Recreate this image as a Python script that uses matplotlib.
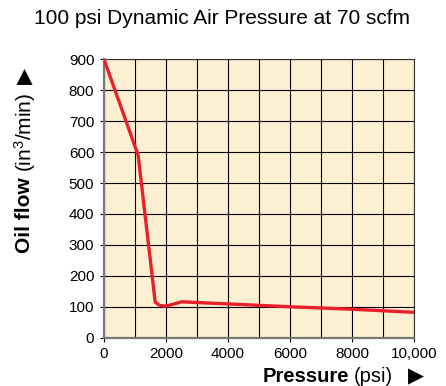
import matplotlib
matplotlib.use("Agg")
import matplotlib.pyplot as plt
from matplotlib.ticker import MultipleLocator, FuncFormatter

plt.rcParams['font.family'] = ['Liberation Sans', 'DejaVu Sans']
plt.rcParams['mathtext.fontset'] = 'custom'
plt.rcParams['mathtext.rm'] = 'Liberation Sans'
plt.rcParams['mathtext.default'] = 'regular'

pressure = [0, 1100, 1650, 1800, 2000, 2500, 6000, 8000, 10000]
oil_flow = [900, 590, 115, 104, 102, 116, 100, 92, 82]

title = "100 psi Dynamic Air Pressure at 70 scfm"

W, H = 446, 386
fig = plt.figure(figsize=(W / 100, H / 100), dpi=100)
ax = fig.add_axes([104 / W, 1 - 337.7 / H, (414.3 - 104) / W, (337.7 - 59.3) / H])
ax.set_facecolor('#FDEFD2')

ax.set_xlim(0, 10000)
ax.set_ylim(0, 900)
ax.xaxis.set_major_locator(MultipleLocator(2000))
ax.xaxis.set_minor_locator(MultipleLocator(1000))
ax.yaxis.set_major_locator(MultipleLocator(100))
ax.xaxis.set_major_formatter(FuncFormatter(lambda v, p: f"{int(v):,}" if v >= 10000 else f"{int(v)}"))

ax.grid(True, which='both', color='black', linewidth=0.8)
ax.set_axisbelow(True)

ax.plot(pressure, oil_flow, color='#E8202A', linewidth=2.4, solid_joinstyle='round', zorder=3)

for s in ['left', 'bottom']:
    ax.spines[s].set_color('#777777')
    ax.spines[s].set_linewidth(1.6)
for s in ['top', 'right']:
    ax.spines[s].set_color('#333333')
    ax.spines[s].set_linewidth(0.8)

ax.tick_params(axis='both', which='major', length=3, width=0.8, color='black', labelsize=11)
ax.tick_params(axis='x', which='major', pad=4)
ax.tick_params(axis='y', which='major', pad=4)
ax.tick_params(axis='x', which='minor', length=0)

fig.text(222 / W, 1 - 18 / H, title, ha='center', va='center', fontsize=15)

renderer = fig.canvas.get_renderer()

# x label pieces, chained left to right
xl_y = 1 - 376 / H
t1 = fig.text(263 / W, xl_y, "Pressure", ha='left', va='center', fontsize=14.5, fontweight='bold')
e1 = t1.get_window_extent(renderer)
t2 = fig.text((e1.x1 + 4) / W, xl_y, "(psi)", ha='left', va='center', fontsize=14.5)
e2 = t2.get_window_extent(renderer)
fig.text((e2.x1 + 15) / W, xl_y, "▶", ha='left', va='center', fontsize=15, family=['DejaVu Sans'])

# y label pieces, chained bottom to top
yl_x = 25 / W
u1 = fig.text(yl_x, 1 - 253 / H, "Oil flow", rotation=90, ha='center', va='bottom',
              fontsize=15, fontweight='bold')
f1 = u1.get_window_extent(renderer)
u2 = fig.text(yl_x, (f1.y1 + 5) / H, "(in$^{3}$/min)", rotation=90, ha='center', va='bottom',
              fontsize=15)
f2 = u2.get_window_extent(renderer)
fig.text(yl_x, (f2.y1 + 9) / H, "▶", rotation=90, ha='center', va='bottom', fontsize=15,
         family=['DejaVu Sans'])

fig.savefig("out.png", dpi=100)
